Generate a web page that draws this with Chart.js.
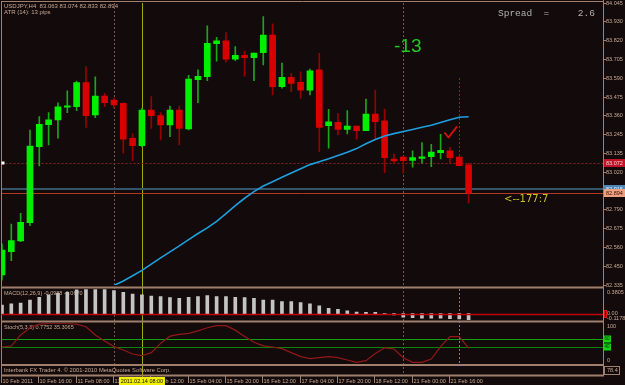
<!DOCTYPE html>
<html lang="en">
<head>
<meta charset="UTF-8">
<title>USDJPY,H4</title>
<script src="https://cdn.jsdelivr.net/npm/chart.js"></script>
<style>
  html, body { margin: 0; padding: 0; background: #130b0b; }
  #wrap { position: relative; width: 625px; height: 385px; overflow: hidden; }
  #wrap canvas { position: absolute; left: 0; top: 0; }
</style>
</head>
<body>
<div id="wrap">
  <canvas id="mainChart" width="625" height="385"></canvas>
  <canvas id="macdChart" width="625" height="385"></canvas>
  <canvas id="stochChart" width="625" height="385"></canvas>
</div>

<script>
// ---- data (H4 bars, 10 Feb 2011 .. 22 Feb 2011) ----
const opens  = [82.396, 82.537, 82.602, 82.713, 83.174, 83.307, 83.336, 83.413, 83.416, 83.562, 83.366, 83.481, 83.457, 83.437, 83.225, 83.180, 83.396, 83.362, 83.305, 83.396, 83.281, 83.580, 83.598, 83.798, 83.815, 83.705, 83.728, 83.713, 83.744, 83.851, 83.537, 83.594, 83.564, 83.517, 83.639, 83.301, 83.322, 83.279, 83.299, 83.271, 83.372, 83.330, 83.099, 83.111, 83.091, 83.103, 83.113, 83.137, 83.149, 83.111, 83.063];
const highs  = [82.584, 82.705, 82.770, 83.275, 83.356, 83.380, 83.439, 83.513, 83.572, 83.659, 83.598, 83.497, 83.469, 83.440, 83.251, 83.408, 83.477, 83.380, 83.420, 83.420, 83.607, 83.639, 83.906, 83.837, 83.865, 83.780, 83.754, 83.742, 83.962, 83.918, 83.681, 83.619, 83.627, 83.645, 83.740, 83.400, 83.376, 83.392, 83.299, 83.463, 83.517, 83.402, 83.129, 83.117, 83.149, 83.198, 83.188, 83.249, 83.170, 83.113, 83.074];
const lows   = [82.365, 82.482, 82.598, 82.695, 83.057, 83.184, 83.225, 83.380, 83.392, 83.291, 83.350, 83.416, 83.408, 83.134, 83.089, 83.172, 83.285, 83.214, 83.234, 83.184, 83.275, 83.440, 83.574, 83.693, 83.687, 83.695, 83.602, 83.574, 83.669, 83.487, 83.528, 83.507, 83.467, 83.487, 83.143, 83.164, 83.245, 83.251, 83.220, 83.271, 83.220, 83.016, 83.069, 83.012, 83.049, 83.073, 83.052, 83.099, 83.077, 83.057, 82.833];
const closes = [82.547, 82.604, 82.715, 83.178, 83.309, 83.336, 83.416, 83.422, 83.562, 83.362, 83.481, 83.440, 83.427, 83.220, 83.180, 83.396, 83.362, 83.305, 83.396, 83.285, 83.584, 83.600, 83.801, 83.815, 83.704, 83.728, 83.713, 83.742, 83.851, 83.537, 83.594, 83.558, 83.517, 83.633, 83.291, 83.325, 83.279, 83.299, 83.271, 83.372, 83.325, 83.107, 83.087, 83.089, 83.107, 83.111, 83.141, 83.152, 83.107, 83.058, 82.894];

// moving average (blue), undefined before bar 12 (below the visible range)
const maValues = [null, null, null, null, null, null, null, null, null, null, null, null,
  82.332, 82.359, 82.391, 82.424, 82.462, 82.499, 82.536, 82.572, 82.610, 82.647, 82.681, 82.721, 82.768, 82.816, 82.861, 82.901, 82.935, 82.961, 82.988, 83.014, 83.040, 83.065, 83.083, 83.100, 83.120, 83.140, 83.162, 83.191, 83.217, 83.239, 83.253, 83.266, 83.278, 83.291, 83.304, 83.320, 83.337, 83.352, 83.355];

const macdValues = [0.134, 0.150, 0.165, 0.211, 0.253, 0.289, 0.315, 0.330, 0.366, 0.370, 0.370, 0.370, 0.355, 0.330, 0.304, 0.289, 0.273, 0.262, 0.247, 0.238, 0.253, 0.262, 0.278, 0.262, 0.262, 0.253, 0.247, 0.238, 0.211, 0.211, 0.185, 0.185, 0.170, 0.150, 0.119, 0.083, 0.068, 0.042, 0.026, 0.022, 0.022, 0.003, -0.020, -0.056, -0.062, -0.071, -0.071, -0.071, -0.076, -0.080, -0.092];

const stochValues = [41, 43.5, 71, 89, 98, 100, 100, 100, 98, 91.5, 71, 56, 42, 33.6, 23.6, 19.4, 27, 50, 68, 72.6, 75, 81, 89, 94, 94, 83, 67, 53, 44, 41, 37, 27, 17, 12, 14.5, 17, 14.5, 8.7, 3, 7, 25, 39, 36, 14.5, 3, 3, 11, 42, 67, 67, 38];
const stochLevels = [60, 40];

const priceTicks = [84.045, 83.930, 83.820, 83.705, 83.590, 83.475, 83.360, 83.245, 83.135, 83.020, 82.905, 82.790, 82.675, 82.560, 82.450, 82.335];
const dateTickIdx = [0, 4, 8, 12, 16, 20, 24, 28, 32, 36, 40, 44, 48];
const dateTickLabels = ['10 Feb 2011', '10 Feb 16:00', '11 Feb 08:00', '13 Feb 20:00', '14 Feb 12:00', '15 Feb 04:00', '15 Feb 20:00', '16 Feb 12:00', '17 Feb 04:00', '17 Feb 20:00', '18 Feb 12:00', '21 Feb 00:00', '21 Feb 16:00'];

const separatorIdx = [12, 43];
const markerIdx = 15, markerLabel = '2011.02.14 08:00';
const vlineIdx = 49;
const askLine = 83.072, blueLine = 82.915, bidLine = 82.894;

// ---- styles ----
const BG = '#130b0b', FRAME = '#a0806c', FG = '#c8a892';
const UP_BODY = '#00ee00', UP_WICK = '#1aa81a', DN_BODY = '#d90000', DN_WICK = '#9a0000';
const tiny = '5.5px "Liberation Sans", sans-serif';
const bars = opens.map((o, i) => i);
const xScale = { type: 'linear', min: -0.05, max: 64.4, display: false, offset: false };
const common = { responsive: false, animation: false, events: [],
  plugins: { legend: { display: false }, tooltip: { enabled: false } } };

function hline(g, x0, x1, y, color, w, dash) {
  g.save(); g.strokeStyle = color; g.lineWidth = w; g.setLineDash(dash || []);
  g.beginPath(); g.moveTo(x0, y); g.lineTo(x1, y); g.stroke(); g.restore();
}
function vline(g, x, y0, y1, color, w, dash) {
  g.save(); g.strokeStyle = color; g.lineWidth = w; g.setLineDash(dash || []);
  g.beginPath(); g.moveTo(x, y0); g.lineTo(x, y1); g.stroke(); g.restore();
}
function text(g, s, x, y, font, color, align) {
  g.save(); g.font = font; g.fillStyle = color; g.textAlign = align || 'left'; g.textBaseline = 'middle';
  g.fillText(s, x, y); g.restore();
}
function priceBox(g, y, label, bg, fg) {
  g.save(); g.fillStyle = bg; g.fillRect(604, Math.round(y) - 4, 21, 8); g.restore();
  text(g, label, 606, Math.round(y), tiny, fg);
}

// ---- main price chart ----
const mainDecor = {
  id: 'mainDecor',
  beforeDraw(c) {
    const g = c.ctx;
    g.save(); g.fillStyle = BG; g.fillRect(0, 0, c.width, c.height); g.restore();
  },
  beforeDatasetsDraw(c) {
    const g = c.ctx, x = c.scales.x, y = c.scales.y, a = c.chartArea;
    separatorIdx.forEach(i => vline(g, Math.round(x.getPixelForValue(i)) + 0.5, a.top, 376, '#7a5848', 1, [2, 2]));
    vline(g, Math.round(x.getPixelForValue(markerIdx)) + 0.5, a.top, 377, '#a8a800', 1);
    const vx = Math.round(x.getPixelForValue(vlineIdx)) + 0.5;
    vline(g, vx, y.getPixelForValue(83.59), y.getPixelForValue(askLine), '#b01818', 1, [2, 2]);
    vline(g, vx, 289, 364, '#8a8a20', 1, [2, 2]);
    hline(g, a.left, a.right, Math.round(y.getPixelForValue(askLine)) + 0.5, '#8a2020', 1, [2, 2]);
    hline(g, a.left, a.right, Math.round(y.getPixelForValue(blueLine)), '#34546a', 2);
    hline(g, a.left, a.right, Math.round(y.getPixelForValue(bidLine)) + 0.5, '#b03a22', 1);
  },
  afterDraw(c) {
    const g = c.ctx, x = c.scales.x, y = c.scales.y;
    // frames and panel separators
    hline(g, 1, 604, 1.5, FRAME, 1);
    vline(g, 1.5, 1, 376, FRAME, 1);
    vline(g, 603.5, 0, 376, FRAME, 1);
    [287.5, 321.5, 365, 375.5].forEach(py => hline(g, 1, 604, py, FRAME, 2));
    // price labels on the right
    priceBox(g, y.getPixelForValue(askLine), askLine.toFixed(3), '#c01428', '#f0d0d0');
    priceBox(g, y.getPixelForValue(blueLine), blueLine.toFixed(3), '#4f86b6', '#e0eeff');
    priceBox(g, y.getPixelForValue(bidLine), bidLine.toFixed(3), '#eea080', '#3a1008');
    g.save(); g.fillStyle = '#ffffff'; g.strokeStyle = '#c01428';
    g.fillRect(1.5, Math.round(y.getPixelForValue(askLine)) - 1.5, 3, 3); g.restore();
    // header texts
    text(g, 'USDJPY,H4  83.063 83.074 82.833 82.894', 4, 6, '6px "Liberation Sans", sans-serif', FG);
    text(g, 'ATR (14): 13 pips', 4, 12.5, '6px "Liberation Sans", sans-serif', FG);
    text(g, 'Spread  =     2.6', 498, 13, '9.5px "Liberation Mono", monospace', '#b0b0b0');
    text(g, '-13', 394, 47, '19px "Liberation Sans", sans-serif', '#22c822');
    text(g, '<--177:7', 504, 199.5, '10px "DejaVu Sans", sans-serif', '#c8c428');
    // red check mark
    g.save(); g.strokeStyle = '#d41010'; g.lineWidth = 2; g.lineJoin = 'round';
    g.beginPath(); g.moveTo(444.5, 132.5); g.lineTo(448.5, 137.5); g.lineTo(457, 126.5); g.stroke(); g.restore();
    // indicator headers
    text(g, 'MACD(12,26,9) -0.0988 -0.0670', 4, 293.5, tiny, FG);
    text(g, 'Stoch(5,3,3) 0.7752 35.3065', 4, 327.5, tiny, FG);
    text(g, 'Interbank FX Trader 4. \u00a9 2001-2010 MetaQuotes Software Corp.', 4, 370.5, '5.8px "Liberation Sans", sans-serif', FG);
    text(g, '78.4', 607, 370.5, tiny, FG);
    g.save(); g.strokeStyle = FRAME; g.strokeRect(604.5, 366.5, 15, 8); g.restore();
    // time axis
    dateTickIdx.forEach((idx, k) => {
      const px = Math.round(x.getPixelForValue(idx));
      vline(g, px - 0.5, 376, 383, FRAME, 1);
      text(g, dateTickLabels[k], px + 0.5, 381, tiny, FG);
    });
    const mx = x.getPixelForValue(markerIdx);
    g.save(); g.fillStyle = '#f0f000'; g.fillRect(mx - 23, 377, 46, 8); g.restore();
    text(g, markerLabel, mx, 381, tiny, '#101000', 'center');
  }
};

new Chart(document.getElementById('mainChart'), {
  type: 'bar',
  data: {
    datasets: [
      { type: 'line', data: bars.map(i => ({ x: i, y: maValues[i] })), borderColor: '#1e9fe0', borderWidth: 1.6,
        pointRadius: 0, spanGaps: false, order: 0 },
      { data: bars.map(i => ({ x: i, y: [opens[i], closes[i]] })), barThickness: 6, grouped: false, minBarLength: 1.5,
        backgroundColor: bars.map(i => closes[i] >= opens[i] ? UP_BODY : DN_BODY), order: 1 },
      { data: bars.map(i => ({ x: i, y: [lows[i], highs[i]] })), barThickness: 1, grouped: false,
        backgroundColor: bars.map(i => closes[i] >= opens[i] ? UP_WICK : DN_WICK), order: 2 }
    ]
  },
  options: {
    ...common,
    layout: { padding: { left: 1.5, top: 3, right: 0, bottom: 100 } },
    scales: {
      x: xScale,
      y: {
        position: 'right', min: 82.335, max: 84.045,
        afterBuildTicks: s => { s.ticks = priceTicks.map(v => ({ value: v })); },
        afterFit: s => { s.width = 22; s.paddingTop = 0; s.paddingBottom = 0; },
        grid: { drawOnChartArea: false, color: FRAME, tickLength: 3 },
        border: { color: FRAME },
        ticks: { color: FG, padding: 0, font: { size: 5.5, family: 'Liberation Sans' }, callback: v => v.toFixed(3) }
      }
    }
  },
  plugins: [mainDecor]
});

// ---- MACD panel ----
const macdDecor = {
  id: 'macdDecor',
  afterDatasetsDraw(c) {
    const g = c.ctx, y = c.scales.y, a = c.chartArea;
    hline(g, a.left, a.right, Math.round(y.getPixelForValue(0)) + 0.5, '#c00000', 1.3);
  },
  afterDraw(c) {
    const g = c.ctx, y = c.scales.y;
    text(g, '0.3805', 607, y.getPixelForValue(y.max) + 3, tiny, FG);
    const zy = Math.round(y.getPixelForValue(0));
    g.save(); g.strokeStyle = '#e01010'; g.strokeRect(604.5, zy - 3.5, 2, 7); g.restore();
    text(g, '0.00', 607, zy - 1, tiny, FG);
    text(g, '-0.1178', 607, zy + 4, tiny, FG);
  }
};

new Chart(document.getElementById('macdChart'), {
  type: 'bar',
  data: {
    datasets: [{ data: bars.map(i => ({ x: i, y: macdValues[i] })), barThickness: 3, backgroundColor: '#c4c4c4' }]
  },
  options: {
    ...common,
    layout: { padding: { left: 1.5, top: 289, right: 22, bottom: 63.7 } },
    scales: { x: xScale, y: { min: -0.1178, max: 0.3805, display: false } }
  },
  plugins: [macdDecor]
});

// ---- Stochastic panel ----
const stochDecor = {
  id: 'stochDecor',
  beforeDatasetsDraw(c) {
    const g = c.ctx, y = c.scales.y, a = c.chartArea;
    hline(g, a.left, a.right, Math.round(y.getPixelForValue(stochLevels[0])) + 0.5, '#12a012', 1.2);
    hline(g, a.left, a.right, Math.round(y.getPixelForValue(stochLevels[1])) + 0.5, '#0b820b', 1.2);
  },
  afterDraw(c) {
    const g = c.ctx, y = c.scales.y;
    text(g, '100', 607, y.getPixelForValue(100) + 3.5, tiny, FG);
    text(g, '0', 607, y.getPixelForValue(0) - 3.5, tiny, FG);
    stochLevels.forEach(v => {
      const py = Math.round(y.getPixelForValue(v));
      g.save(); g.fillStyle = '#14d214'; g.fillRect(604, py - 3.5, 7, 7); g.restore();
      text(g, String(v), 604.5, py, '4.5px "Liberation Sans", sans-serif', '#063006');
    });
  }
};

new Chart(document.getElementById('stochChart'), {
  type: 'line',
  data: {
    datasets: [{ data: bars.map(i => ({ x: i, y: stochValues[i] })), borderColor: '#921818', borderWidth: 1.2, pointRadius: 0 }]
  },
  options: {
    ...common,
    layout: { padding: { left: 1.5, top: 323.3, right: 22, bottom: 21.5 } },
    scales: { x: xScale, y: { min: 0, max: 100, display: false } }
  },
  plugins: [stochDecor]
});
</script>
</body>
</html>
